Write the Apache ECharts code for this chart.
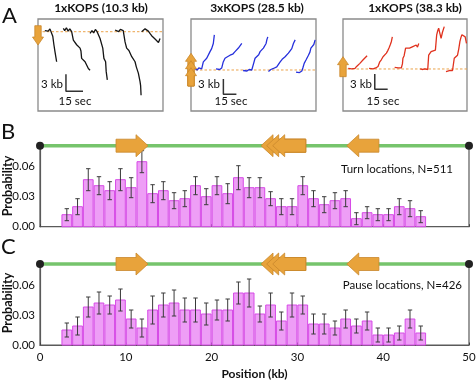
<!DOCTYPE html>
<html><head><meta charset="utf-8">
<script src="https://cdn.jsdelivr.net/npm/echarts@6/dist/echarts.min.js"></script>
<style>html,body{margin:0;padding:0;background:#fff}#c{width:476px;height:381px}</style>
</head><body><div id="c"></div>
<script>
const FONT = 'Lato, "Liberation Sans", sans-serif';

// ---------- Panel A: single-molecule traces (time in s, position in kb relative to KOPS) ----------
const traces1 = [
  [[6,0.2],[7.5,0.4],[9,0.1],[10.5,0.5],[12,0.3],[13,-0.8],[14,-2.3],[15,-3.6],[16.4,-5.3]],
  [[22.3,0.6],[23.5,0.2],[25,0.7],[26.5,0.1],[28,0.5],[29.6,0],[31.1,-1.5],[32.5,-1.2],[34,-2.3],[35,-2.0],[37,-2.9],[37.8,-3.4],[38.4,-4.7],[39.5,-4.4],[41.4,-5.3],[42.5,-5.0],[44.3,-6.5],[45.8,-6.8]],
  [[45.8,-0.3],[47.5,0.2],[49,-0.2],[50.5,0.4],[52,0],[53,0.3],[54.6,-1.2],[55.5,-1.0],[57,-2.9],[58,-4.7],[59.5,-5.3],[60,-7],[61,-8.5]],
  [[67.8,0.3],[69.5,0.5],[71,0],[72.5,0.4],[74,0.1],[75,0.2],[76.6,-1.8],[77.5,-1.6],[78,-2.9],[80,-3.3],[81,-3.5],[82.5,-4.4],[84,-4.6],[85.4,-5.3],[86.5,-6.2],[88.3,-7.3],[89,-7.0],[89.8,-8.8],[90.3,-9.5],[90.7,-11.2]],
  [[91.2,0],[92.5,0.3],[94.2,0.5],[95.5,0.2],[97.1,0.1],[98.5,-0.3],[100,-0.7],[103,-1.3],[106,-1.9],[107.4,-1.2]]
];
const traces2 = [
  [[4.6,0.3],[7,0],[9,0.4],[12.3,0.2],[14.2,1.6],[16,1.4],[18.1,2.3],[20,2.6],[21.9,3.6],[23.8,4.2],[24.8,4.0],[25.7,5.2],[26.3,5.0],[26.9,6.9]],
  [[28.8,0.2],[31,0.4],[33,0.1],[35.4,0.4],[37,1.5],[39.2,2.3],[42,2.6],[45,2.9],[48,3.1],[50.7,3.6],[52.5,3.7],[54.6,4.3],[56.5,4.6],[58.5,5.2]],
  [[60,-0.1],[62,0.1],[64.5,-0.2],[67,0.1],[70,0],[72,1.2],[73.8,2.3],[76,2.6],[78,3.0],[79.6,3.6],[81.5,3.8],[83.4,4.3],[85,4.6],[86.5,5.2],[87.5,6.0],[88.5,6.5]],
  [[89.2,-0.3],[92,0.1],[95,0.3],[98.8,0.6],[100.5,0.4],[102.7,1.6],[105,2.1],[108.4,2.6],[110,2.9],[112.2,3.3],[114,3.6],[116.1,4.2],[117,4.0],[118,5.2],[119,5.0],[120,5.9]],
  [[121,-0.4],[123,-0.2],[125,-0.5],[127.7,-0.2],[129,0.5],[130.4,1.3],[132.6,2.0],[134,2.3],[135.3,2.9],[137,3.5],[138.1,4.3],[140,4.6],[141.5,5.0],[143,5.9]]
];
const traces3 = [
  [[6.1,0.1],[8,0.3],[10,0],[12,0.2],[14,0.1],[15.8,0.5],[17.5,0.7],[19.6,1.1],[21.5,1.3],[23.4,1.8],[25.5,2.1],[28,2.6]],
  [[30.3,0.1],[32.5,0.3],[35,0],[38,0.2],[40.7,0.5],[42.7,1.4],[44.5,1.8],[46.5,2.4],[48.5,2.7],[50.4,3.1],[52,3.6],[53.4,4.1],[55,4.8],[56.2,5.4],[57.3,6.3]],
  [[60,0.3],[62,0.1],[64,0.2],[66,-0.1],[67.7,0.2],[69,1.0],[69.6,2.1],[71,2.6],[72.7,4.1],[75,3.8],[77.3,4.1],[79,3.9],[81.1,4.4],[83,4.2],[85,4.7],[86.5,4.3],[88,5.0]],
  [[89.6,0],[92,-0.1],[95,0],[98.4,-0.1],[99.5,2.7],[101,3.0],[102.3,3.4],[104,3.2],[107.3,3.7],[108.2,5.5],[108.8,6.7],[110,7.5],[111.1,8.0],[112.5,7.0],[113.9,6.0],[115.5,7.2],[117.6,8.3]],
  [[119.6,-0.5],[121.5,-0.7],[123.5,-0.3],[125.5,-0.5],[127.2,-0.3],[129.2,2.1],[131,2.4],[133,2.7],[134.5,4.0],[135.8,5.4],[137,6.2],[138.1,6.7],[140,6.4],[141.9,6.3],[143.4,5.0]]
];
const boxTitles = ['1xKOPS (10.3 kb)', '3xKOPS (28.5 kb)', '1xKOPS (38.3 kb)'];
const boxTimeMax = [110, 144, 144];
const boxKbRange = [[-13.98, 2.24], [-8.04, 10], [-8.24, 9.8]];
// KOPS arrows in panel A: [t0, kbTail, t1, kbTip]
const kopsA1 = [[0, 1.06, 0, -2.35]];
const kopsA2 = [[0, -3.14, 0, 3.27], [0, -3.14, 0, 1.82], [0, -3.14, 0, 0.45]];
const kopsA3 = [[0, -1.51, 0, 2.41]];
// scale bars: [t, kb] corner, 3 kb up, 15 s right
const scaleCorner = [[24.6, -10.5], [37.3, -4.76], [36.9, -3.98]];
const scaleKb = 3, scaleSec = 15;

// ---------- Panels B & C: histograms ----------
const binWidth = 1.25;
const binCenters = [3.125,4.375,5.625,6.875,8.125,9.375,10.625,11.875,13.125,14.375,15.625,16.875,18.125,19.375,20.625,21.875,23.125,24.375,25.625,26.875,28.125,29.375,30.625,31.875,33.125,34.375,35.625,36.875,38.125,39.375,40.625,41.875,43.125,44.375];
const turnProb = [0.012,0.020,0.047,0.041,0.036,0.047,0.039,0.065,0.033,0.036,0.026,0.028,0.041,0.030,0.041,0.033,0.049,0.039,0.039,0.028,0.020,0.020,0.041,0.028,0.022,0.026,0.028,0.008,0.014,0.012,0.012,0.020,0.018,0.010];
const turnErr  = [0.006,0.008,0.011,0.009,0.009,0.011,0.010,0.011,0.009,0.009,0.008,0.008,0.009,0.008,0.009,0.010,0.012,0.010,0.010,0.007,0.008,0.008,0.009,0.008,0.008,0.008,0.008,0.006,0.006,0.006,0.006,0.008,0.008,0.006];
const pauseProb = [0.015,0.019,0.038,0.042,0.040,0.045,0.026,0.017,0.035,0.040,0.042,0.035,0.035,0.031,0.035,0.035,0.052,0.052,0.031,0.040,0.024,0.040,0.040,0.021,0.021,0.017,0.026,0.019,0.024,0.010,0.010,0.012,0.026,0.012];
const pauseErr  = [0.007,0.009,0.010,0.011,0.009,0.011,0.009,0.009,0.014,0.012,0.013,0.012,0.012,0.011,0.010,0.011,0.011,0.014,0.008,0.012,0.009,0.012,0.009,0.010,0.010,0.007,0.009,0.007,0.009,0.007,0.007,0.007,0.009,0.007];
const mapLevel = 0.081;               // DNA map drawn at top of the probability axis
const dnaEnds = [0, 50];
// KOPS arrows on the DNA map: [tailKb, tipKb]
const kopsMap = [[8.86, 12.59], [30.97, 25.76], [30.97, 26.42], [30.97, 27.12], [39.5, 35.75]];
const yTicks = [0, 0.03, 0.06];

const ORANGE = '#e8a33b', ORANGE_S = '#c9882c';

function arrowRender(headLen, headHalf, bodyHalf) {
  return function (params, api) {
    const a = api.coord([api.value(0), api.value(1)]);
    const b = api.coord([api.value(2), api.value(3)]);
    const dx = b[0] - a[0], dy = b[1] - a[1], L = Math.hypot(dx, dy);
    const ux = dx / L, uy = dy / L, nx = -uy, ny = ux;
    const hb = [b[0] - ux * headLen, b[1] - uy * headLen];
    const pts = [
      [a[0] + nx * bodyHalf, a[1] + ny * bodyHalf],
      [hb[0] + nx * bodyHalf, hb[1] + ny * bodyHalf],
      [hb[0] + nx * headHalf, hb[1] + ny * headHalf],
      b,
      [hb[0] - nx * headHalf, hb[1] - ny * headHalf],
      [hb[0] - nx * bodyHalf, hb[1] - ny * bodyHalf],
      [a[0] - nx * bodyHalf, a[1] - ny * bodyHalf]
    ];
    return { type: 'polygon', shape: { points: pts }, style: { fill: ORANGE, stroke: ORANGE_S, lineWidth: 0.8 } };
  };
}
function barRender(params, api) {
  const x = api.value(0), y = api.value(1);
  const p0 = api.coord([x - binWidth / 2, y]), p1 = api.coord([x + binWidth / 2, 0]);
  return { type: 'rect', shape: { x: p0[0] + 0.5, y: p0[1], width: p1[0] - p0[0] - 1, height: p1[1] - p0[1] },
    style: { fill: '#ee9ef6', stroke: '#d64ae6', lineWidth: 1 } };
}
function errRender(params, api) {
  const x = api.value(0), y = api.value(1), e = api.value(2);
  const t = api.coord([x, y + e]), b = api.coord([x, y - e]);
  const c = 2.2, st = { stroke: '#3a3a3a', lineWidth: 1 };
  return { type: 'group', children: [
    { type: 'line', shape: { x1: t[0], y1: t[1], x2: b[0], y2: b[1] }, style: st },
    { type: 'line', shape: { x1: t[0] - c, y1: t[1], x2: t[0] + c, y2: t[1] }, style: st },
    { type: 'line', shape: { x1: b[0] - c, y1: b[1], x2: b[0] + c, y2: b[1] }, style: st }
  ] };
}

const grids = [
  { left: 38, top: 19, width: 125, height: 92 },
  { left: 191, top: 19, width: 125, height: 92 },
  { left: 343, top: 19, width: 124, height: 92 },
  { left: 40, top: 145.7, width: 429, height: 81 },
  { left: 40, top: 264, width: 429, height: 81 }
].map((g, i) => Object.assign(g, { show: true, containLabel: false, outerBoundsMode: 'none',
  borderColor: i < 3 ? '#8a8a8a' : '#5a5a5a', borderWidth: i < 3 ? 1.3 : 1.2, backgroundColor: 'transparent' }));

const xAxes = [], yAxes = [];
for (let i = 0; i < 3; i++) {
  xAxes.push({ gridIndex: i, type: 'value', min: 0, max: boxTimeMax[i], show: false });
  yAxes.push({ gridIndex: i, type: 'value', min: boxKbRange[i][0], max: boxKbRange[i][1], show: false });
}
for (let k = 0; k < 2; k++) {
  const gi = 3 + k;
  xAxes.push({ gridIndex: gi, type: 'value', min: dnaEnds[0], max: dnaEnds[1], interval: 10,
    axisLine: { onZero: false, lineStyle: { color: '#5a5a5a', width: 1.2 } },
    axisTick: { inside: true, length: 2.5, lineStyle: { color: '#444' } },
    axisLabel: { show: k === 1, color: '#111', fontFamily: FONT, fontSize: 11.5, margin: 6 },
    splitLine: { show: false },
    name: k === 1 ? 'Position (kb)' : '', nameLocation: 'middle', nameGap: 23,
    nameTextStyle: { fontFamily: FONT, fontWeight: 'bold', fontSize: 12, color: '#111' } });
  yAxes.push({ gridIndex: gi, type: 'value', min: 0, max: mapLevel, interval: 0.03,
    axisLine: { show: true, lineStyle: { color: '#5a5a5a', width: 1.2 } },
    axisTick: { show: false },
    axisLabel: { color: '#111', fontFamily: FONT, fontSize: 11.5, margin: 5, showMaxLabel: false,
      formatter: v => (yTicks.some(t => Math.abs(t - v) < 1e-9) ? v.toFixed(2) : '') },
    splitLine: { show: false } });
}

const series = [];
const traceSets = [traces1, traces2, traces3];
const traceColors = ['#141414', '#2630dc', '#e0321e'];
const kopsA = [kopsA1, kopsA2, kopsA3];
for (let i = 0; i < 3; i++) {
  series.push({ type: 'line', xAxisIndex: i, yAxisIndex: i, data: [[0, 0], [boxTimeMax[i], 0]], showSymbol: false,
    lineStyle: { color: '#eba24a', width: 1, type: [2.5, 2] }, silent: true, z: 1 });
  traceSets[i].forEach(tr => series.push({ type: 'line', xAxisIndex: i, yAxisIndex: i, data: tr, showSymbol: false,
    lineStyle: { color: traceColors[i], width: 1.3 }, silent: true, z: 2 }));
  const c = scaleCorner[i];
  series.push({ type: 'line', xAxisIndex: i, yAxisIndex: i, data: [[c[0], c[1] + scaleKb], c, [c[0] + scaleSec, c[1]]],
    showSymbol: false, lineStyle: { color: '#333', width: 1.5 }, silent: true, z: 3 });
  series.push({ type: 'custom', xAxisIndex: i, yAxisIndex: i, data: kopsA[i], renderItem: arrowRender(8, 5.5, 3.2), z: 4, silent: true });
}
const hists = [[turnProb, turnErr], [pauseProb, pauseErr]];
for (let k = 0; k < 2; k++) {
  const gi = 3 + k;
  series.push({ type: 'custom', xAxisIndex: gi, yAxisIndex: gi, data: binCenters.map((x, j) => [x, hists[k][0][j]]), renderItem: barRender, z: 2, silent: true });
  series.push({ type: 'custom', xAxisIndex: gi, yAxisIndex: gi, data: binCenters.map((x, j) => [x, hists[k][0][j], hists[k][1][j]]), renderItem: errRender, z: 3, silent: true });
  series.push({ type: 'line', xAxisIndex: gi, yAxisIndex: gi, data: dnaEnds.map(x => [x, mapLevel]), clip: false,
    symbol: 'circle', symbolSize: 8, itemStyle: { color: '#222' }, lineStyle: { color: '#76c46c', width: 3.5 }, z: 4, silent: true });
  series.push({ type: 'custom', xAxisIndex: gi, yAxisIndex: gi, data: kopsMap.map(a => [a[0], mapLevel, a[1], mapLevel]),
    renderItem: arrowRender(12, 11, 6.5), clip: false, z: 5, silent: true });
}

function txt(text, x, y, size, weight, align, rot) {
  return { type: 'text', x: x, y: y, rotation: rot || 0,
    style: { text: text, font: (weight || 'normal') + ' ' + size + 'px ' + FONT, fill: '#111', align: align || 'center', verticalAlign: 'middle' }, z: 10 };
}
const graphic = [
  txt('A', 2, 16, 22, 'normal', 'left'),
  txt('B', 1, 132, 22, 'normal', 'left'),
  txt('C', 1, 247, 22, 'normal', 'left'),
  txt(boxTitles[0], 101, 8, 12, 'bold'),
  txt(boxTitles[1], 257, 8, 12, 'bold'),
  txt(boxTitles[2], 415, 8, 12, 'bold'),
  txt('3 kb', 63, 84, 11.5, 'normal', 'right'),
  txt('3 kb', 220, 84, 11.5, 'normal', 'right'),
  txt('3 kb', 372, 84, 11.5, 'normal', 'right'),
  txt('15 sec', 75, 101, 11.5),
  txt('15 sec', 231, 101, 11.5),
  txt('15 sec', 383, 101, 11.5),
  txt('Probability', 8, 186, 12.5, 'bold', 'center', Math.PI / 2),
  txt('Probability', 8, 303, 12.5, 'bold', 'center', Math.PI / 2),
  txt('Turn locations, N=511', 453, 169.5, 11.5, 'normal', 'right'),
  txt('Pause locations, N=426', 462, 285, 11.5, 'normal', 'right')
];

const chart = echarts.init(document.getElementById('c'), null, { renderer: 'canvas' });
chart.setOption({ animation: false, grid: grids, xAxis: xAxes, yAxis: yAxes, series: series, graphic: graphic });
</script></body></html>
